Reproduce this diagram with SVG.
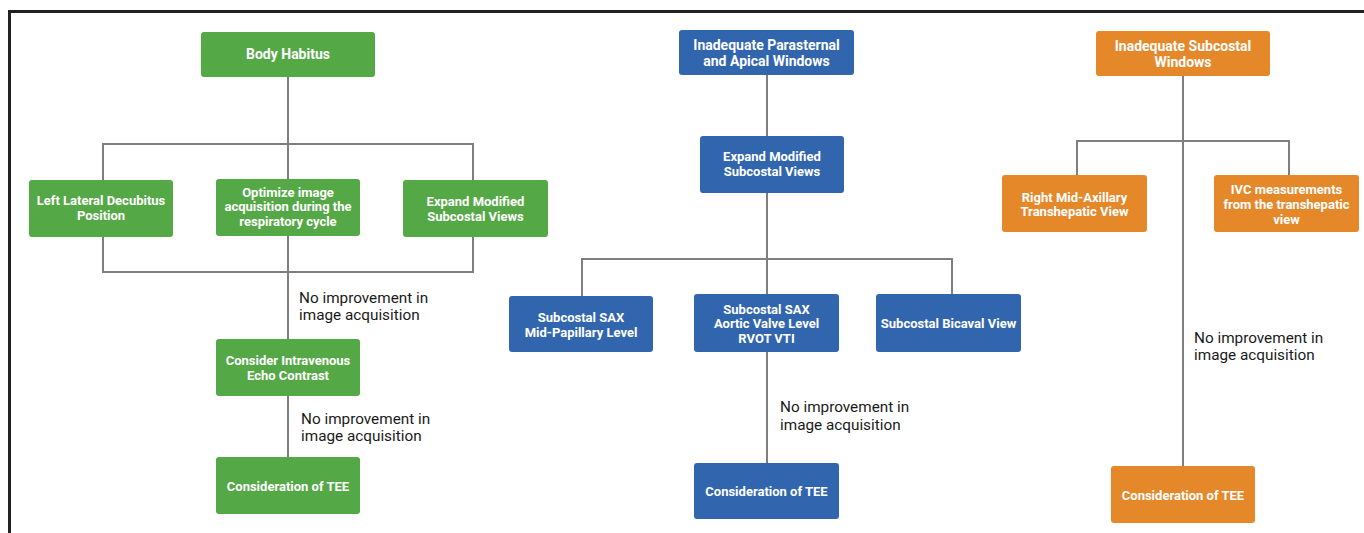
<svg xmlns="http://www.w3.org/2000/svg" width="1364" height="533" viewBox="0 0 1364 533">
<style>
.g{fill:#55a846}.b{fill:#3166ae}.o{fill:#e5882a}
.t{font-family:Roboto,"Liberation Sans",sans-serif;font-weight:700;font-size:13px;fill:#fff;text-anchor:middle}
.h{font-size:14px}
.l{font-family:Roboto,"Liberation Sans",sans-serif;font-size:15.3px;fill:#1a1a1a}
.c{fill:none;stroke:#7f7f7f;stroke-width:2}
</style>
<rect width="1364" height="533" fill="#fff"/>
<path d="M9.5 533V11.5H1364" fill="none" stroke="#222" stroke-width="3"/>
<g id="connectors">
<path class="c" d="M288 77V457"/>
<path class="c" d="M103 180V144H473V180"/>
<path class="c" d="M103 237V272H473V237"/>
<path class="c" d="M767 75V463"/>
<path class="c" d="M582 296V259H952V294"/>
<path class="c" d="M1183 76V466"/>
<path class="c" d="M1077 175V141H1289V175"/>
</g>
<g id="labels">
<text class="l" x="299" y="303">No improvement in<tspan x="299" y="320">image acquisition</tspan></text>
<text class="l" x="301" y="424">No improvement in<tspan x="301" y="441">image acquisition</tspan></text>
<text class="l" x="780" y="412">No improvement in<tspan x="780" y="430">image acquisition</tspan></text>
<text class="l" x="1194" y="343">No improvement in<tspan x="1194" y="360">image acquisition</tspan></text>
</g>
<g id="body-habitus"><rect class="g" x="201" y="32" width="174" height="45" rx="3"/><text class="t h" x="288" y="59">Body Habitus</text></g>
<g id="left-lateral"><rect class="g" x="29" y="180" width="144" height="57" rx="3"/><text class="t" x="101" y="204.5">Left Lateral Decubitus<tspan x="101" y="219.5">Position</tspan></text></g>
<g id="optimize"><rect class="g" x="216" y="179" width="144" height="57" rx="3"/><text class="t" x="288" y="196.5">Optimize image<tspan x="288" y="211">acquisition during the</tspan><tspan x="288" y="225.5">respiratory cycle</tspan></text></g>
<g id="expand-green"><rect class="g" x="403" y="180" width="145" height="57" rx="3"/><text class="t" x="475.5" y="205.5">Expand Modified<tspan x="475.5" y="220.5">Subcostal Views</tspan></text></g>
<g id="contrast"><rect class="g" x="216" y="339" width="144" height="57" rx="3"/><text class="t" x="288" y="365">Consider Intravenous<tspan x="288" y="379.5">Echo Contrast</tspan></text></g>
<g id="tee-green"><rect class="g" x="216" y="457" width="144" height="57" rx="3"/><text class="t" x="288" y="491">Consideration of TEE</text></g>
<g id="parasternal"><rect class="b" x="679" y="30" width="175" height="45" rx="3"/><text class="t h" x="766.5" y="49.5">Inadequate Parasternal<tspan x="766.5" y="65.5">and Apical Windows</tspan></text></g>
<g id="expand-blue"><rect class="b" x="700" y="136" width="144" height="57" rx="3"/><text class="t" x="772" y="161">Expand Modified<tspan x="772" y="176">Subcostal Views</tspan></text></g>
<g id="mid-papillary"><rect class="b" x="509" y="296" width="144" height="56" rx="3"/><text class="t" x="581" y="321.5">Subcostal SAX<tspan x="581" y="336.5">Mid-Papillary Level</tspan></text></g>
<g id="aortic"><rect class="b" x="694" y="294" width="145" height="58" rx="3"/><text class="t" x="766.5" y="313.5">Subcostal SAX<tspan x="766.5" y="328">Aortic Valve Level</tspan><tspan x="766.5" y="342.5">RVOT VTI</tspan></text></g>
<g id="bicaval"><rect class="b" x="876" y="294" width="145" height="58" rx="3"/><text class="t" x="948.5" y="327.5">Subcostal Bicaval View</text></g>
<g id="tee-blue"><rect class="b" x="694" y="463" width="145" height="56" rx="3"/><text class="t" x="766.5" y="495.5">Consideration of TEE</text></g>
<g id="subcostal"><rect class="o" x="1096" y="31" width="174" height="45" rx="3"/><text class="t h" x="1183" y="50.5">Inadequate Subcostal<tspan x="1183" y="66.5">Windows</tspan></text></g>
<g id="mid-axillary"><rect class="o" x="1002" y="175" width="145" height="57" rx="3"/><text class="t" x="1074.5" y="201.5">Right Mid-Axillary<tspan x="1074.5" y="215.5">Transhepatic View</tspan></text></g>
<g id="ivc"><rect class="o" x="1214" y="175" width="145" height="57" rx="3"/><text class="t" x="1286.5" y="193.5">IVC measurements<tspan x="1286.5" y="208.5">from the transhepatic</tspan><tspan x="1286.5" y="223.5">view</tspan></text></g>
<g id="tee-orange"><rect class="o" x="1111" y="466" width="144" height="57" rx="3"/><text class="t" x="1183" y="499.5">Consideration of TEE</text></g>
</svg>
